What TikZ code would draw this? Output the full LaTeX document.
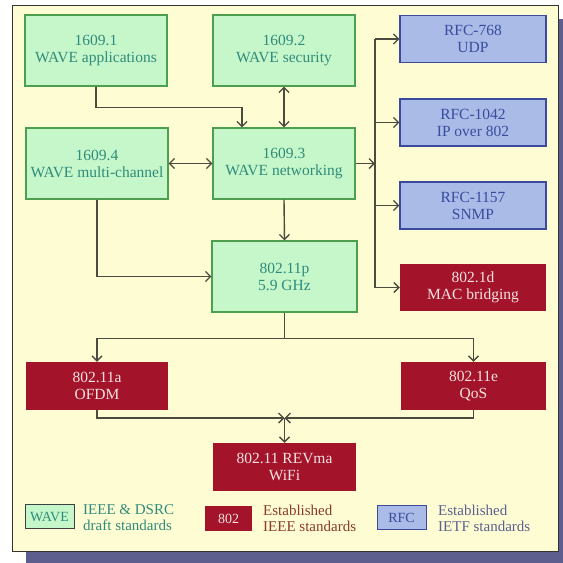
\documentclass[tikz,border=0pt]{standalone}
\usepackage{fontspec}
\setmainfont{Liberation Serif}
\usetikzlibrary{arrows.meta}

\definecolor{panelbg}{HTML}{FEFCD3}
\definecolor{shadowc}{HTML}{5E5E8E}
\definecolor{wavefill}{HTML}{C6F7CA}
\definecolor{wavedraw}{HTML}{4E9E50}
\definecolor{wavetext}{HTML}{2F8C7A}
\definecolor{rfcfill}{HTML}{A9BBE6}
\definecolor{rfcdraw}{HTML}{3C4A9C}
\definecolor{rfctext}{HTML}{3A4C9E}
\definecolor{ieeefill}{HTML}{A3142A}
\definecolor{ieeetext}{HTML}{F5E2E2}
\definecolor{ieeelegend}{HTML}{8B3B2B}
\definecolor{ietflegend}{HTML}{5B6090}
\definecolor{linec}{HTML}{4B4B3F}

\tikzset{
  boxtext/.style={align=center, font=\fontsize{15.5}{17}\selectfont, inner sep=0pt},
  wavebox/.style={boxtext, draw=wavedraw, fill=wavefill, text=wavetext, line width=1.3pt,
    minimum width=142pt, minimum height=71pt},
  rfcbox/.style={boxtext, draw=rfcdraw, fill=rfcfill, text=rfctext, line width=1.3pt,
    minimum width=146pt, minimum height=47pt},
  ieeebox/.style={boxtext, fill=ieeefill, text=ieeetext,
    minimum width=144pt, minimum height=48pt},
  legendkey/.style={inner sep=0pt, font=\fontsize{14}{15}\selectfont,
    minimum width=49pt, minimum height=24pt},
  legendtext/.style={anchor=west, align=left, inner sep=0pt, font=\fontsize{15}{16}\selectfont},
  conn/.style={draw=linec, line width=1.4pt},
  tip/.tip={Straight Barb[length=5pt, width=10pt, line width=1.3pt]},
  arr/.style={conn, -tip},
  arrboth/.style={conn, tip-tip},
}

\begin{document}
\begin{tikzpicture}[x=1pt, y=-1pt]
  \useasboundingbox (0,0) rectangle (563,563);
  % drop shadow and panel
  \fill[shadowc] (26,19) rectangle (575,575);
  \fill[white] (0,551) rectangle (26,563);
  \draw[fill=panelbg, draw=black!80, line width=1pt] (12,5) rectangle (558,551);

  % WAVE draft standards
  \node[wavebox] (w1) at (96,50.5)  {1609.1\\WAVE applications};
  \node[wavebox] (w2) at (284,50.5) {1609.2\\WAVE security};
  \node[wavebox] (w4) at (97,163.5) {1609.4\\WAVE multi-channel};
  \node[wavebox] (w3) at (284,163.5) {1609.3\\WAVE networking};
  \node[wavebox, minimum width=145pt] (p) at (284.5,276.5) {802.11p\\5.9 GHz};

  % IETF standards
  \node[rfcbox] (r1) at (473,39)    {RFC-768\\UDP};
  \node[rfcbox] (r2) at (473,122.5) {RFC-1042\\IP over 802};
  \node[rfcbox] (r3) at (473,205.5) {RFC-1157\\SNMP};

  % established IEEE standards
  \node[ieeebox, minimum width=146pt, minimum height=47pt] (d) at (473,287.5) {802.1d\\MAC bridging};
  \node[ieeebox, minimum width=142pt] (a) at (97,386)    {802.11a\\OFDM};
  \node[ieeebox, minimum width=145pt] (e) at (473.5,386) {802.11e\\QoS};
  \node[ieeebox, minimum width=143pt] (r) at (284.5,467) {802.11 REVma\\WiFi};

  % connectors among the WAVE layers
  \draw[arr] (w1.south) -- ++(0,21) -| ([xshift=-42pt]w3.north);
  \draw[arrboth] (w2.south) -- (w3.north);
  \draw[arrboth] (w4.east) -- (w3.west);
  \draw[arr] (w3.south) -- (p.north);
  \draw[arr] (w4.south) |- (p.west);

  % networking bus to the upper-layer standards
  \coordinate (bus) at (375,163.5);
  \draw[arr] (w3.east) -- (bus);
  \draw[conn] (r1.west -| bus) -- (d.west -| bus);
  \draw[arr] (r1.west -| bus) -- (r1.west);
  \draw[arr] (r2.west -| bus) -- (r2.west);
  \draw[arr] (r3.west -| bus) -- (r3.west);
  \draw[arr] (d.west -| bus)  -- (d.west);

  % 802.11p down to the MAC/PHY amendments
  \draw[conn] (p.south) -- ++(0,26) coordinate (split);
  \draw[arr] (split) -| (a.north);
  \draw[arr] (split) -| (e.north);

  % amendments merging into the base standard
  \coordinate (join) at (284.5,418);
  \draw[arr] (a.south) |- (join);
  \draw[arr] (e.south) |- (join);
  \draw[arr] (join) -- (r.north);

  % legend
  \node[legendkey, draw=black!75, fill=wavefill, text=wavetext, line width=1pt] (k1) at (49.5,516.5) {WAVE};
  \node[legendtext, text=wavetext] (t1) at (83,518) {IEEE \& DSRC\\draft standards};
  \node[legendkey, fill=ieeefill, text=ieeetext, minimum width=47pt, minimum height=25pt] (k2) at (228.5,518.5) {802};
  \node[legendtext, text=ieeelegend] (t2) at (263,518) {Established\\IEEE standards};
  \node[legendkey, draw=rfcdraw, fill=rfcfill, text=rfctext, line width=1pt] (k3) at (401.5,517.5) {RFC};
  \node[legendtext, text=ietflegend] (t3) at (438,518) {Established\\IETF standards};
\end{tikzpicture}
\end{document}
